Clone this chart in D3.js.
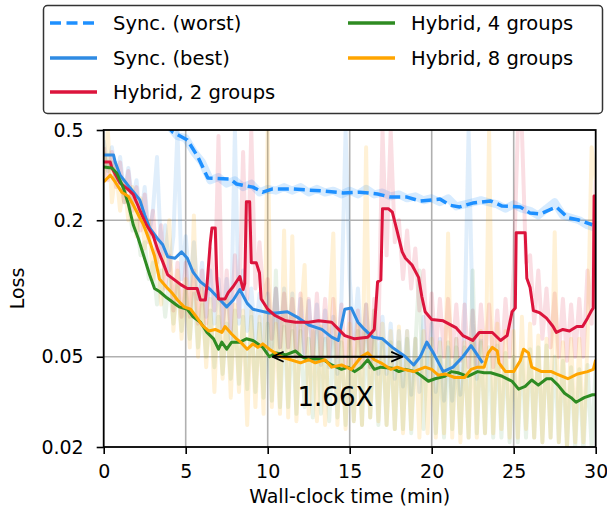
<!DOCTYPE html>
<html>
<head>
<meta charset="utf-8">
<script src="https://cdn.jsdelivr.net/npm/d3@7"></script>
<style>
  body { margin: 0; background: #fff; }
  text { font-family: "DejaVu Sans", sans-serif; fill: #000; }
</style>
</head>
<body>
<svg id="chart" width="607" height="515"></svg>
<script>
// axis ticks
const xTicks = [0, 5, 10, 15, 20, 25, 30];
const yTicks = [0.02, 0.05, 0.2, 0.5];
const yTickLabels = ["0.02", "0.05", "0.2", "0.5"];

// smoothed curves (minutes, loss)
const worstTime = [3.8, 4.2, 5.1, 5.75, 6.35, 7.7, 8.1, 9.1, 9.7, 10.3, 11.4, 12.4, 13.4, 14.6, 15.6, 16.7, 17.5, 18.5, 19.3, 20.5, 21.1, 21.7, 22.5, 23.6, 24.3, 25.4, 26.0, 26.6, 27.6, 28.3, 28.9, 29.8];
const worstLoss = [0.53, 0.49, 0.452, 0.38, 0.307, 0.304, 0.289, 0.28, 0.266, 0.275, 0.275, 0.272, 0.269, 0.264, 0.266, 0.261, 0.253, 0.253, 0.243, 0.248, 0.233, 0.229, 0.238, 0.243, 0.231, 0.229, 0.215, 0.213, 0.229, 0.205, 0.201, 0.191];

const bestTime = [0, 0.6, 0.7, 1.0, 1.6, 2.2, 2.5, 2.8, 3.25, 3.6, 3.9, 4.35, 4.75, 5.1, 5.45, 5.9, 6.5, 7.1, 7.5, 7.9, 8.3, 8.75, 9.1, 10.1, 10.5, 11.2, 11.9, 12.5, 13.3, 13.9, 14.3, 14.7, 15.1, 15.5, 15.9, 16.4, 17.0, 17.6, 18.4, 18.9, 19.3, 19.7, 20.1, 20.7, 21.3, 21.9, 22.4, 22.7, 23.1];
const bestLoss = [0.388, 0.388, 0.361, 0.316, 0.278, 0.246, 0.211, 0.185, 0.167, 0.156, 0.138, 0.136, 0.145, 0.136, 0.118, 0.107, 0.099, 0.089, 0.083, 0.089, 0.099, 0.086, 0.081, 0.078, 0.078, 0.079, 0.074, 0.069, 0.066, 0.061, 0.059, 0.081, 0.082, 0.071, 0.066, 0.061, 0.060, 0.055, 0.050, 0.046, 0.050, 0.058, 0.052, 0.043, 0.045, 0.050, 0.056, 0.052, 0.047];

const hyb2Time = [0, 0.4, 0.5, 1.0, 1.45, 1.8, 2.2, 2.6, 3.0, 3.3, 3.6, 3.9, 4.4, 4.7, 5.1, 5.7, 5.9, 6.2, 6.3, 6.5, 6.6, 6.8, 6.9, 7.0, 7.4, 7.6, 7.9, 8.3, 8.5, 8.6, 8.7, 8.9, 9.0, 9.3, 9.5, 9.6, 10.0, 10.45, 11.1, 11.7, 12.5, 13.1, 13.9, 14.7, 15.3, 16.1, 16.5, 16.7, 16.9, 17.0, 17.35, 17.6, 17.9, 18.2, 18.4, 18.8, 19.2, 19.4, 19.6, 20.0, 20.7, 21.5, 21.9, 22.5, 22.9, 23.7, 24.2, 24.6, 24.9, 25.1, 25.15, 25.7, 25.8, 26.0, 26.2, 26.6, 27.0, 27.4, 27.6, 28.0, 28.4, 28.85, 29.2, 29.5, 29.75, 29.85, 29.9, 30];
const hyb2Loss = [0.361, 0.361, 0.340, 0.292, 0.275, 0.260, 0.222, 0.191, 0.172, 0.148, 0.131, 0.115, 0.108, 0.104, 0.100, 0.100, 0.089, 0.089, 0.104, 0.160, 0.185, 0.185, 0.110, 0.090, 0.090, 0.096, 0.102, 0.113, 0.099, 0.105, 0.241, 0.241, 0.130, 0.130, 0.117, 0.090, 0.081, 0.076, 0.072, 0.071, 0.071, 0.072, 0.071, 0.062, 0.060, 0.061, 0.066, 0.107, 0.109, 0.225, 0.225, 0.217, 0.178, 0.145, 0.136, 0.127, 0.112, 0.092, 0.079, 0.073, 0.072, 0.067, 0.062, 0.059, 0.064, 0.064, 0.059, 0.062, 0.079, 0.082, 0.176, 0.176, 0.111, 0.101, 0.080, 0.078, 0.074, 0.068, 0.064, 0.066, 0.065, 0.068, 0.068, 0.074, 0.080, 0.082, 0.256, 0.256];

const hyb4Time = [0, 0.5, 0.8, 1.2, 1.5, 1.8, 2.1, 2.5, 2.8, 3.1, 3.4, 3.85, 4.4, 4.6, 5.1, 5.45, 5.9, 6.3, 6.7, 7.0, 7.2, 7.5, 7.8, 8.3, 8.7, 9.1, 9.7, 10.1, 10.5, 11.1, 11.7, 12.1, 12.5, 12.9, 13.4, 13.9, 14.5, 14.9, 15.3, 15.7, 16.1, 16.5, 16.9, 17.6, 18.0, 18.4, 19.0, 19.4, 19.8, 20.2, 20.8, 21.2, 21.6, 22.2, 22.8, 23.2, 23.6, 24.3, 24.9, 25.3, 25.7, 26.1, 26.5, 27.0, 27.3, 27.7, 28.1, 28.5, 28.8, 29.3, 29.8, 30];
const hyb4Loss = [0.343, 0.340, 0.322, 0.278, 0.236, 0.191, 0.167, 0.135, 0.115, 0.100, 0.097, 0.091, 0.085, 0.083, 0.081, 0.075, 0.071, 0.064, 0.060, 0.054, 0.058, 0.054, 0.058, 0.058, 0.060, 0.059, 0.055, 0.050, 0.052, 0.051, 0.053, 0.050, 0.0485, 0.049, 0.0485, 0.046, 0.044, 0.045, 0.043, 0.045, 0.0485, 0.044, 0.045, 0.0445, 0.043, 0.044, 0.043, 0.041, 0.039, 0.040, 0.041, 0.043, 0.0425, 0.041, 0.043, 0.0425, 0.0425, 0.041, 0.039, 0.036, 0.037, 0.0395, 0.0375, 0.040, 0.040, 0.0375, 0.0345, 0.033, 0.0315, 0.033, 0.034, 0.034];

const hyb8Time = [0, 0.4, 0.7, 1.1, 1.5, 1.8, 2.1, 2.4, 2.8, 3.1, 3.4, 3.85, 4.2, 4.5, 4.9, 5.3, 5.65, 6.0, 6.4, 6.8, 7.2, 7.4, 7.8, 8.1, 8.35, 8.75, 9.1, 9.4, 9.7, 10.1, 10.8, 11.4, 12.0, 12.5, 12.9, 13.5, 13.9, 14.5, 15.1, 15.7, 16.1, 16.5, 16.9, 17.5, 17.9, 18.3, 18.9, 19.6, 20.0, 20.4, 20.8, 21.4, 22.0, 22.4, 22.8, 23.2, 23.45, 23.7, 24.0, 24.1, 24.5, 25.0, 25.4, 25.6, 25.9, 26.1, 26.7, 27.3, 27.6, 28.3, 28.9, 29.5, 29.85, 30];
const hyb8Loss = [0.295, 0.316, 0.295, 0.266, 0.255, 0.234, 0.212, 0.193, 0.162, 0.139, 0.110, 0.101, 0.095, 0.089, 0.083, 0.081, 0.075, 0.069, 0.065, 0.066, 0.064, 0.068, 0.063, 0.060, 0.058, 0.054, 0.057, 0.055, 0.057, 0.054, 0.050, 0.0485, 0.047, 0.0485, 0.047, 0.0485, 0.045, 0.046, 0.044, 0.050, 0.052, 0.0485, 0.047, 0.044, 0.045, 0.044, 0.043, 0.045, 0.044, 0.0415, 0.042, 0.0405, 0.0405, 0.044, 0.045, 0.045, 0.052, 0.055, 0.053, 0.047, 0.043, 0.043, 0.048, 0.054, 0.052, 0.045, 0.043, 0.043, 0.042, 0.040, 0.042, 0.043, 0.044, 0.0485];

// raw (unsmoothed) logs: worst every half minute from t=4, others every quarter minute from t=0
const worstRawStep = 0.5, worstRawStart = 4;
const worstRaw = [0.52, 0.47, 0.46, 0.40, 0.36, 0.30, 0.31, 0.29, 0.30, 0.28, 0.29, 0.265, 0.275, 0.27, 0.28, 0.27, 0.28, 0.265, 0.275, 0.265, 0.27, 0.26, 0.27, 0.26, 0.275, 0.26, 0.265, 0.255, 0.26, 0.25, 0.255, 0.245, 0.25, 0.24, 0.25, 0.23, 0.235, 0.24, 0.245, 0.24, 0.235, 0.225, 0.235, 0.225, 0.22, 0.21, 0.225, 0.24, 0.21, 0.205, 0.20, 0.19, 0.185];
const rawStep = 0.25;
const bestRaw = [
    0.45, 0.34, 0.42, 0.30,  0.38, 0.26, 0.34, 0.24,  0.30, 0.20, 0.28, 0.17,  0.22, 0.38, 0.14, 0.19,
    0.12, 0.17, 0.5, 0.11,   0.17, 0.10, 0.16, 0.09,  0.13, 0.075, 0.12, 0.07, 0.11, 0.065, 0.11, 0.06,
    0.5, 0.07, 0.12, 0.065,  0.10, 0.06, 0.095, 0.058, 0.095, 0.055, 0.10, 0.055, 0.10, 0.055, 0.095, 0.05,
    0.09, 0.05, 0.088, 0.048, 0.085, 0.046, 0.08, 0.045, 0.075, 0.042, 0.09, 0.5, 0.11, 0.06, 0.10, 0.05,
    0.085, 0.045, 0.08, 0.042, 0.075, 0.042, 0.07, 0.04, 0.065, 0.037, 0.065, 0.034, 0.06, 0.035, 0.075, 0.04,
    0.07, 0.035, 0.06, 0.032, 0.055, 0.032, 0.06, 0.034, 0.065, 0.5, 0.07, 0.04, 0.06];
const hyb2Raw = [
    0.42, 0.30, 0.40, 0.28,  0.36, 0.24, 0.33, 0.22,  0.28, 0.18, 0.26, 0.16,  0.22, 0.13, 0.19, 0.10,
    0.14, 0.08, 0.13, 0.075, 0.13, 0.075, 0.12, 0.07, 0.12, 0.07, 0.15, 0.08,  0.47, 0.065, 0.12, 0.065,
    0.14, 0.075, 0.40, 0.09, 0.5, 0.10, 0.16, 0.09,  0.11, 0.06, 0.10, 0.055, 0.095, 0.055, 0.09, 0.05,
    0.095, 0.052, 0.09, 0.05, 0.095, 0.05, 0.09, 0.05, 0.09, 0.05, 0.085, 0.045, 0.08, 0.045, 0.08, 0.045,
    0.085, 0.045, 0.09, 0.06, 0.5, 0.14, 0.5, 0.16,  0.20, 0.11, 0.18, 0.10,  0.15, 0.08, 0.12, 0.055,
    0.095, 0.052, 0.09, 0.05, 0.09, 0.05, 0.085, 0.048, 0.085, 0.045, 0.08, 0.045, 0.085, 0.048, 0.085, 0.045,
    0.08, 0.045, 0.09, 0.05, 0.12, 0.5, 0.5, 0.13,   0.14, 0.07, 0.12, 0.06,  0.10, 0.055, 0.095, 0.05,
    0.09, 0.048, 0.085, 0.05, 0.09, 0.05, 0.12, 0.07, 0.3];
const hyb4Raw = [
    0.40, 0.33, 0.36, 0.30,  0.30, 0.24, 0.25, 0.18,  0.20, 0.14, 0.16, 0.11,  0.13, 0.085, 0.12, 0.075,
    0.11, 0.07, 0.105, 0.065, 0.10, 0.06, 0.095, 0.055, 0.085, 0.05, 0.08, 0.045, 0.075, 0.042, 0.07, 0.04,
    0.08, 0.038, 0.075, 0.036, 0.075, 0.035, 0.07, 0.033, 0.07, 0.032, 0.12, 0.03, 0.068, 0.03, 0.065, 0.028,
    0.065, 0.03, 0.06, 0.027, 0.065, 0.028, 0.06, 0.026, 0.06, 0.027, 0.058, 0.025, 0.06, 0.026, 0.065, 0.025,
    0.065, 0.027, 0.06, 0.025, 0.06, 0.025, 0.058, 0.024, 0.058, 0.024, 0.06, 0.023, 0.055, 0.12, 0.024, 0.055,
    0.052, 0.023, 0.05, 0.022, 0.058, 0.024, 0.055, 0.023, 0.055, 0.022, 0.12, 0.023, 0.058, 0.023, 0.055, 0.022,
    0.056, 0.022, 0.052, 0.021, 0.05, 0.021, 0.052, 0.022, 0.054, 0.022, 0.055, 0.021, 0.056, 0.022, 0.05, 0.021,
    0.048, 0.02, 0.045, 0.02, 0.044, 0.019, 0.046, 0.02, 0.045];
const hyb8Raw = [
    0.30, 0.5, 0.24, 0.34,   0.22, 0.30, 0.20, 0.28,  0.17, 0.25, 0.15, 0.20,  0.11, 0.15, 0.085, 0.14,
    0.20, 0.065, 0.12, 0.06, 0.11, 0.055, 0.21, 0.05, 0.10, 0.045, 0.09, 0.035, 0.095, 0.04, 0.09, 0.033,
    0.085, 0.035, 0.08, 0.025, 0.08, 0.03, 0.075, 0.028, 0.5, 0.03, 0.07, 0.028, 0.18, 0.027, 0.17, 0.026,
    0.07, 0.127, 0.028, 0.065, 0.026, 0.068, 0.025, 0.07, 0.175, 0.025, 0.065, 0.024, 0.07, 0.026, 0.07, 0.025,
    0.42, 0.027, 0.08, 0.026, 0.07, 0.025, 0.065, 0.024, 0.068, 0.023, 0.065, 0.024, 0.06, 0.022, 0.065, 0.023,
    0.06, 0.022, 0.058, 0.023, 0.175, 0.022, 0.06, 0.021, 0.058, 0.022, 0.06, 0.022, 0.065, 0.023, 0.5, 0.023,
    0.07, 0.024, 0.065, 0.022, 0.065, 0.022, 0.075, 0.024, 0.07, 0.022, 0.062, 0.021, 0.06, 0.022, 0.177, 0.021,
    0.058, 0.02, 0.06, 0.021, 0.06, 0.021, 0.058, 0.42, 0.3];

// speed-up annotation
const arrowFrom = 10.3, arrowTo = 18.2, arrowLoss = 0.05;
const speedupLabel = "1.66X";

const W = 607, H = 515;
const margin = {top: 130, right: 11.3, bottom: 68, left: 103.7};

const svg = d3.select("#chart");

const x = d3.scaleLinear().domain([0, 30]).range([margin.left, W - margin.right]);
const y = d3.scaleLog().domain([0.02, 0.5]).range([H - margin.bottom, margin.top]);

const defs = svg.append("defs");
defs.append("clipPath").attr("id", "plot-clip")
    .append("rect")
    .attr("x", margin.left).attr("y", margin.top)
    .attr("width", x(30) - x(0)).attr("height", y(0.02) - y(0.5));

// grid
const grid = svg.append("g");
grid.selectAll(".vg").data(xTicks.slice(1, -1)).join("line")
    .attr("x1", d => x(d)).attr("x2", d => x(d))
    .attr("y1", y(0.5)).attr("y2", y(0.02))
    .attr("stroke", "#b0b0b0").attr("stroke-width", 1.6);
grid.selectAll(".hg").data(yTicks.slice(1, -1)).join("line")
    .attr("x1", x(0)).attr("x2", x(30))
    .attr("y1", d => y(d)).attr("y2", d => y(d))
    .attr("stroke", "#b0b0b0").attr("stroke-width", 1.6);

const line = d3.line().x(d => x(d[0])).y(d => y(d[1]));
const zipT = (ts, vs) => ts.map((t, i) => [t, vs[i]]);
const zipRaw = (vs, start, step) => vs.map((v, i) => [start + i * step, v]);

const series = [
    {name: "Sync. (worst)", color: "#1e90ff", dash: "11,5", rawAlpha: 0.18, raw: zipRaw(worstRaw, worstRawStart, worstRawStep), pts: zipT(worstTime, worstLoss)},
    {name: "Sync. (best)", color: "#2f8be3", dash: null, rawAlpha: 0.15, raw: zipRaw(bestRaw, 0, rawStep), pts: zipT(bestTime, bestLoss)},
    {name: "Hybrid, 2 groups", color: "#dc143c", dash: null, rawAlpha: 0.14, raw: zipRaw(hyb2Raw, 0, rawStep), pts: zipT(hyb2Time, hyb2Loss)},
    {name: "Hybrid, 4 groups", color: "#2e8b22", dash: null, rawAlpha: 0.11, raw: zipRaw(hyb4Raw, 0, rawStep), pts: zipT(hyb4Time, hyb4Loss)},
    {name: "Hybrid, 8 groups", color: "#ffa500", dash: null, rawAlpha: 0.16, raw: zipRaw(hyb8Raw, 0, rawStep), pts: zipT(hyb8Time, hyb8Loss)}
];

const plot = svg.append("g").attr("clip-path", "url(#plot-clip)");

// faint raw curves first
plot.selectAll(".raw").data(series).join("path")
    .attr("d", d => line(d.raw))
    .attr("fill", "none")
    .attr("stroke", d => d.color)
    .attr("stroke-width", d => d.dash ? 8 : 4)
    .attr("stroke-opacity", d => d.rawAlpha)
    .attr("stroke-linejoin", "round");

// smoothed curves
plot.selectAll(".smooth").data(series).join("path")
    .attr("d", d => line(d.pts))
    .attr("fill", "none")
    .attr("stroke", d => d.color)
    .attr("stroke-width", d => d.dash ? 3.5 : 3)
    .attr("stroke-dasharray", d => d.dash)
    .attr("stroke-linejoin", "round");

// frame
svg.append("rect")
    .attr("x", x(0)).attr("y", y(0.5))
    .attr("width", x(30) - x(0)).attr("height", y(0.02) - y(0.5))
    .attr("fill", "none").attr("stroke", "#000").attr("stroke-width", 1.8);

// axes
const xAxis = svg.append("g").attr("transform", `translate(0,${y(0.02)})`)
    .call(d3.axisBottom(x).tickValues(xTicks).tickSize(7).tickPadding(11).tickFormat(d3.format("d")));
const yAxis = svg.append("g").attr("transform", `translate(${x(0)},0)`)
    .call(d3.axisLeft(y).tickValues(yTicks).tickSize(7).tickPadding(13).tickFormat((d, i) => yTickLabels[i]));
[xAxis, yAxis].forEach(a => {
    a.select(".domain").remove();
    a.selectAll(".tick line").attr("stroke", "#000").attr("stroke-width", 1.6);
    a.selectAll(".tick text").attr("font-family", "DejaVu Sans").attr("font-size", 19).attr("fill", "#000");
});

svg.append("text")
    .attr("x", (x(0) + x(30)) / 2).attr("y", 503)
    .attr("text-anchor", "middle").attr("font-size", 19)
    .text("Wall-clock time (min)");
svg.append("text")
    .attr("transform", `translate(24,${(y(0.5) + y(0.02)) / 2}) rotate(-90)`)
    .attr("text-anchor", "middle").attr("font-size", 19)
    .text("Loss");

// arrow annotation
["start", "end"].forEach(k => {
    defs.append("marker").attr("id", "head-" + k)
        .attr("viewBox", "0 -6 12 12").attr("refX", 11).attr("refY", 0)
        .attr("markerWidth", 12).attr("markerHeight", 12)
        .attr("markerUnits", "userSpaceOnUse")
        .attr("orient", k === "end" ? "auto" : "auto-start-reverse")
        .append("path").attr("d", "M0,-5L11,0L0,5")
        .attr("fill", "none").attr("stroke", "#000").attr("stroke-width", 1.8);
});
svg.append("line")
    .attr("x1", x(arrowFrom)).attr("x2", x(arrowTo))
    .attr("y1", y(arrowLoss)).attr("y2", y(arrowLoss))
    .attr("stroke", "#000").attr("stroke-width", 2)
    .attr("marker-start", "url(#head-start)").attr("marker-end", "url(#head-end)");
svg.append("text")
    .attr("x", x((arrowFrom + arrowTo) / 2) - 2).attr("y", 406)
    .attr("text-anchor", "middle").attr("font-size", 26)
    .text(speedupLabel);

// legend
const legend = svg.append("g");
legend.append("rect")
    .attr("x", 43.5).attr("y", 5.5).attr("width", 559).attr("height", 108)
    .attr("rx", 4).attr("fill", "#fff").attr("stroke", "#333").attr("stroke-width", 1.5);
const legPos = [[50, 23], [50, 58], [50, 92], [348, 23], [348, 58]];
const items = legend.selectAll(".item").data(series).join("g")
    .attr("transform", (d, i) => `translate(${legPos[i][0]},${legPos[i][1]})`);
items.append("line")
    .attr("x1", 0).attr("x2", 47).attr("y1", 0).attr("y2", 0)
    .attr("stroke", d => d.color).attr("stroke-width", 3.5)
    .attr("stroke-dasharray", d => d.dash ? "11,5.5" : null);
items.append("text")
    .attr("x", 63).attr("y", 7).attr("font-size", 19.5)
    .text(d => d.name);
</script>
</body>
</html>
